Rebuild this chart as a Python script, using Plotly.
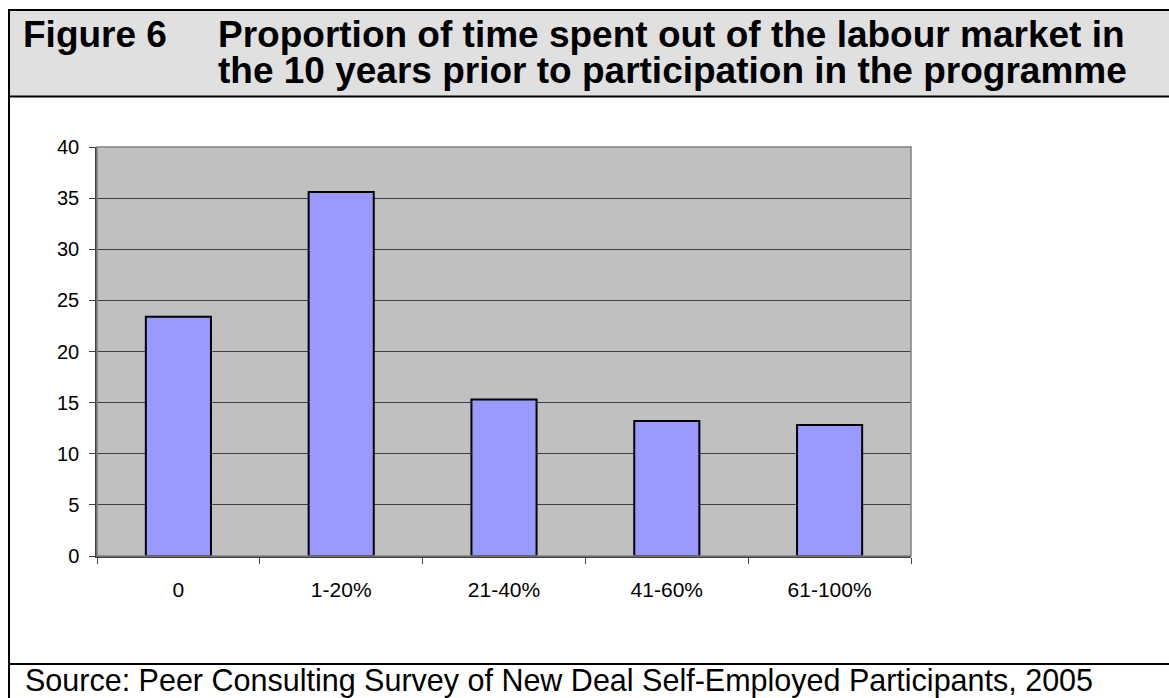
import plotly.graph_objects as go

categories = ["0", "1-20%", "21-40%", "41-60%", "61-100%"]
values = [23.4, 35.6, 15.3, 13.2, 12.8]
y_ticks = [0, 5, 10, 15, 20, 25, 30, 35, 40]

title_label = "Figure 6"
title_line1 = "Proportion of time spent out of the labour market in"
title_line2 = "the 10 years prior to participation in the programme"
source_text = "Source: Peer Consulting Survey of New Deal Self-Employed Participants, 2005"

W, H = 1169, 698
L, R, T, B = 97, 911, 147, 556
FONT = "Liberation Sans, Arial, sans-serif"


def px(x):
    return (x - L) / (R - L)


def py(y):
    return (B - y) / (B - T)


fig = go.Figure(
    go.Bar(
        x=categories,
        y=values,
        marker=dict(color="#9999ff", line=dict(color="black", width=2)),
        width=0.4,
    )
)

shapes = [
    # title background
    dict(type="rect", xref="paper", yref="paper", x0=px(9), x1=px(1172),
         y0=py(96.5), y1=py(10), fillcolor="#e0e0e0",
         line=dict(color="black", width=2), layer="below"),
    # left frame line
    dict(type="line", xref="paper", yref="paper", x0=px(9), x1=px(9),
         y0=py(10), y1=py(702), line=dict(color="black", width=2)),
    # source divider
    dict(type="line", xref="paper", yref="paper", x0=px(9), x1=px(1172),
         y0=py(664), y1=py(664), line=dict(color="black", width=2)),
    # plot border
    dict(type="rect", xref="paper", yref="paper", x0=0, x1=1, y0=0, y1=1,
         line=dict(color="#808080", width=1.5), layer="above"),
]

title_font = dict(family=FONT, size=37, color="black")
annotations = [
    dict(text="<b>" + title_label + "</b>", x=px(21), y=py(34), xref="paper", yref="paper",
         xanchor="left", yanchor="middle", showarrow=False, font=title_font),
    dict(text="<b>" + title_line1 + "</b>", x=px(216), y=py(34), xref="paper", yref="paper",
         xanchor="left", yanchor="middle", showarrow=False, font=title_font),
    dict(text="<b>" + title_line2 + "</b>", x=px(216), y=py(70.5), xref="paper", yref="paper",
         xanchor="left", yanchor="middle", showarrow=False, font=title_font),
    dict(text=source_text, x=px(23), y=py(680), xref="paper", yref="paper",
         xanchor="left", yanchor="middle", showarrow=False,
         font=dict(family=FONT, size=30.5, color="black")),
]

fig.update_layout(
    width=W, height=H,
    margin=dict(l=L, r=W - R, t=T, b=H - B, pad=0),
    paper_bgcolor="white",
    plot_bgcolor="#c0c0c0",
    showlegend=False,
    shapes=shapes,
    annotations=annotations,
    font=dict(family=FONT, size=20, color="black"),
    xaxis=dict(
        tickson="boundaries", ticks="outside", ticklen=6, tickcolor="#404040",
        showline=True, linecolor="#404040", linewidth=1.5,
        showgrid=False, ticklabelstandoff=14,
        tickfont=dict(family=FONT, size=21, color="black"),
    ),
    yaxis=dict(
        range=[0, 40], tickvals=y_ticks, ticks="outside", ticklen=6, tickcolor="#404040",
        showline=True, linecolor="#404040", linewidth=1.5,
        showgrid=True, gridcolor="#404040", gridwidth=1.2,
        zeroline=False, ticklabelstandoff=6,
        tickfont=dict(family=FONT, size=20, color="black"),
    ),
)

fig.write_html("out.html")
